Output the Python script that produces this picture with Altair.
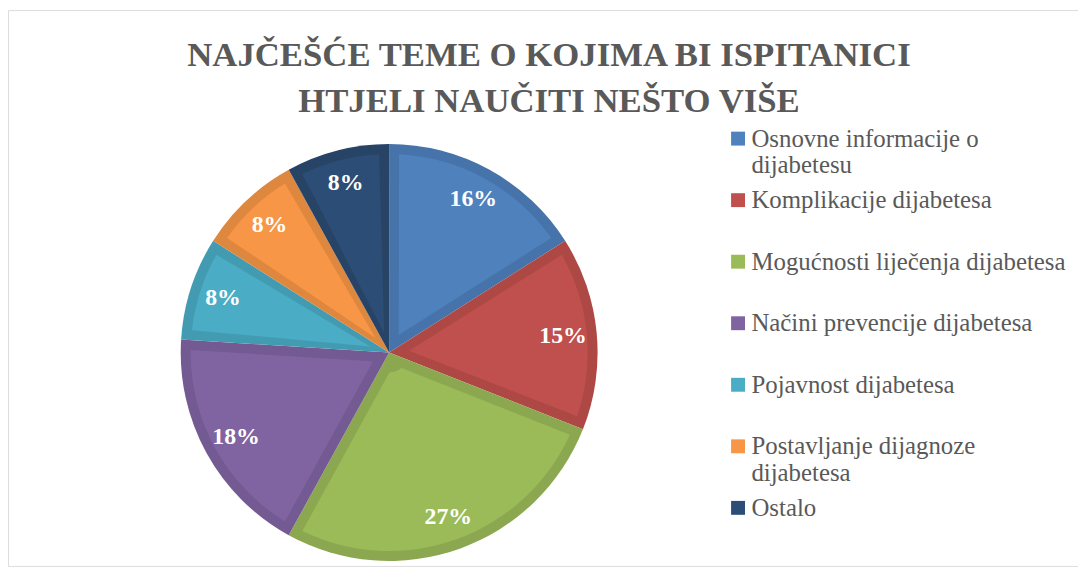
import altair as alt
import pandas as pd

# ---- data ----
categories = [
    "Osnovne informacije o dijabetesu",
    "Komplikacije dijabetesa",
    "Mogućnosti liječenja dijabetesa",
    "Načini prevencije dijabetesa",
    "Pojavnost dijabetesa",
    "Postavljanje dijagnoze dijabetesa",
    "Ostalo",
]
percent = [16, 15, 27, 18, 8, 8, 8]
fill_colors = ["#4F81BD", "#C0504D", "#9BBB59", "#8064A2", "#4BACC6", "#F79646", "#2C4D75"]
edge_colors = ["#4673AA", "#AD4845", "#8BA850", "#735A92", "#439BB2", "#DE873F", "#274467"]
legend_wrap = {
    "Osnovne informacije o dijabetesu": ["Osnovne informacije o", "dijabetesu"],
    "Postavljanje dijagnoze dijabetesa": ["Postavljanje dijagnoze", "dijabetesa"],
}
title_lines = ["NAJČEŠĆE TEME O KOJIMA BI ISPITANICI", "HTJELI NAUČITI NEŠTO VIŠE"]

df = pd.DataFrame({
    "tema": categories,
    "udio": percent,
    "red": list(range(len(categories))),
    "rub": edge_colors,
})
df["oznaka"] = df["udio"].astype(str) + "%"

# legend label expression with wrapped lines
expr = "datum.label"
for name, lines in reversed(list(legend_wrap.items())):
    arr = "[" + ", ".join("'" + l + "'" for l in lines) + "]"
    expr = f"datum.label == '{name}' ? {arr} : ({expr})"

W, H = 1078, 560
CX, CY = 384, 345
R = 210
SERIF = "Liberation Serif"

base = alt.Chart(df).encode(
    theta=alt.Theta("udio:Q", stack=True),
    order=alt.Order("red:Q"),
    x=alt.value(CX),
    y=alt.value(CY),
)

edge = base.mark_arc(outerRadius=R).encode(
    color=alt.Color("rub:N", scale=None)
)

fill = base.mark_arc(outerRadius=R - 10, innerRadius=20, padAngle=0.0997).encode(
    color=alt.Color(
        "tema:N",
        sort=categories,
        scale=alt.Scale(domain=categories, range=fill_colors),
        legend=alt.Legend(
            title=None,
            orient="none",
            legendX=723,
            legendY=117,
            symbolType="square",
            symbolSize=196,
            symbolStrokeWidth=0,
            labelFont=SERIF,
            labelFontSize=25,
            labelColor="#595959",
            labelLimit=500,
            labelOffset=1,
            labelExpr=expr,
            gridAlign="all",
            rowPadding=9,
        ),
    )
)

text = base.mark_text(
    radius=176, font=SERIF, fontSize=24, fontWeight="bold", color="white"
).encode(text="oznaka:N")

chart = (
    alt.layer(edge, fill, text)
    .properties(
        width=W,
        height=H,
        padding=0,
        title=alt.TitleParams(
            text=title_lines,
            font=SERIF,
            fontSize=35,
            fontWeight="bold",
            color="#595959",
            anchor="middle",
            offset=-110,
            dx=6,
            lineHeight=47,
        ),
    )
    .configure_view(stroke="#D9D9D9", strokeWidth=1)
    .configure(background="white")
)

chart.save("out.html", embed_options={"renderer": "svg", "actions": False})
